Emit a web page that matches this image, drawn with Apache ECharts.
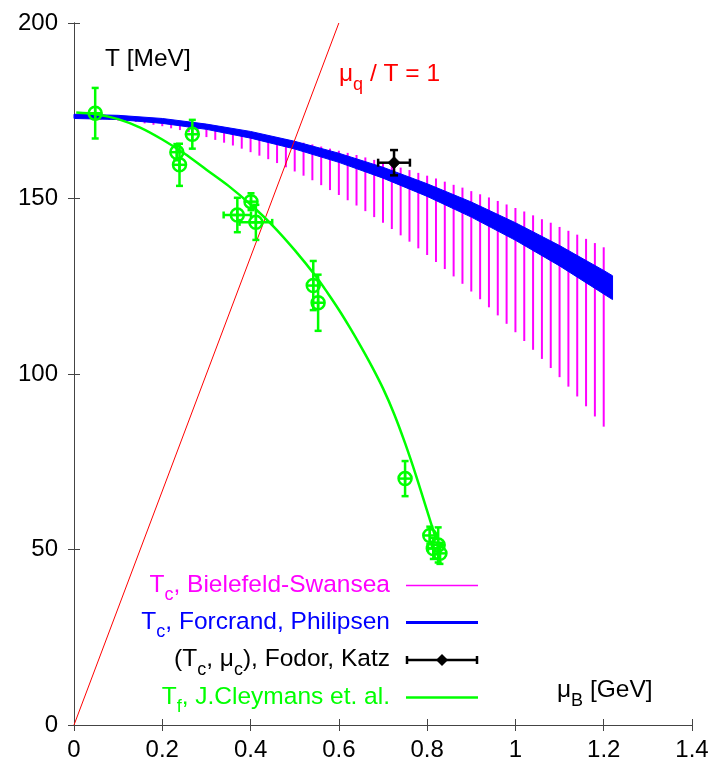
<!DOCTYPE html>
<html><head><meta charset="utf-8">
<script src="https://cdn.jsdelivr.net/npm/echarts@6/dist/echarts.min.js"></script>
<style>html,body{margin:0;padding:0;background:#fff}#c{width:712px;height:762px}</style>
</head><body><div id="c"></div>
<script>
// ---- axes ----
const xMin = 0, xMax = 1.4, xStep = 0.2;
const yMin = 0, yMax = 200, yStep = 50;

// ---- T_c, Bielefeld-Swansea (vertical bars: mu_B, top, bottom) ----
const bsMu = [0.02,0.04,0.06,0.08,0.10,0.12,0.14,0.16,0.18,0.20,
              0.22,0.24,0.26,0.28,0.30,0.32,0.34,0.36,0.38,0.40,
              0.42,0.44,0.46,0.48,0.50,0.52,0.54,0.56,0.58,0.60,
              0.62,0.64,0.66,0.68,0.70,0.72,0.74,0.76,0.78,0.80,
              0.82,0.84,0.86,0.88,0.90,0.92,0.94,0.96,0.98,1.00,
              1.02,1.04,1.06,1.08,1.10,1.12,1.14,1.16,1.18,1.20];
const bsTop = [172.8,172.8,172.7,172.6,172.5,172.4,172.3,172.1,172.0,171.8,
               171.6,171.3,171.1,170.8,170.5,170.2,169.9,169.5,169.1,168.7,
               168.3,167.9,167.4,166.9,166.4,165.9,165.4,164.8,164.2,163.6,
               163.0,162.4,161.7,161.0,160.3,159.6,158.8,158.1,157.3,156.5,
               155.7,154.8,153.9,153.1,152.1,151.2,150.3,149.3,148.3,147.3,
               146.3,145.2,144.1,143.1,141.9,140.8,139.7,138.5,137.3,136.1];
const bsBot = [172.7,172.6,172.5,172.4,172.2,172.0,171.8,171.4,171.0,170.6,
               170.0,169.5,168.9,168.2,167.5,166.7,165.9,165.1,164.2,163.2,
               162.2,161.2,160.1,158.9,157.7,156.5,155.2,153.8,152.4,151.0,
               149.5,148.0,146.4,144.7,143.1,141.3,139.5,137.7,135.8,133.9,
               131.9,129.9,127.8,125.7,123.5,121.3,119.0,116.7,114.3,111.9,
               109.4,106.9,104.3,101.7,99.1,96.4,93.6,90.8,87.9,85.0];

// ---- T_c, Forcrand, Philipsen (band) ----
const fpMu    = [0,0.1,0.2,0.3,0.4,0.5,0.6,0.7,0.8,0.9,1.0,1.1,1.2,1.22];
const fpUpper = [174.0,173.7,172.8,171.2,169.1,166.3,162.9,158.9,154.2,149.0,143.1,136.6,129.5,128.0];
const fpLower = [172.8,172.5,171.4,169.7,167.2,164.1,160.3,155.8,150.6,144.7,138.1,130.8,122.8,121.2];

// ---- (T_c, mu_c), Fodor, Katz ----
const fkMu = [0.725], fkT = [160.2], fkDT = [3.6], fkDMu = [0.036];

// ---- T_f, J.Cleymans et. al. : curve ----
const clMu = [0.005,0.05,0.1,0.15,0.2,0.25,0.3,0.35,0.4,0.45,0.5,0.55,0.575,0.6,0.625,0.65,0.675,0.7,0.725,0.75,0.775,0.8,0.82];
const clT  = [174.5,174.0,172.6,170.2,166.8,162.8,158.2,153.6,148.3,142.3,135.3,127.5,123.0,118.3,113.2,107.8,102.1,95.9,88.7,80.3,71.0,61.0,53.0];

// ---- T_f data points ----
const cpMu  = [0.048,0.233,0.239,0.268,0.370,0.401,0.412,0.542,0.553,0.750,0.806,0.814,0.825,0.829];
const cpT   = [174.3,163.2,159.6,168.3,145.3,149.1,143.2,125.2,120.3,70.2,54.0,50.3,51.3,48.9];
const cpDT  = [7.2,2.3,6.0,4.1,4.9,2.4,5.0,7.0,8.0,5.0,2.5,3.0,5.0,3.0];
const cpDMu = [0,0,0,0,0.031,0,0.037,0,0,0,0,0.012,0,0];

// ---- mu_q / T = 1 line ----
const rlMu = [0, 0.6];
const rlT  = [0, 200];

const FONT = "'Liberation Sans', Arial, sans-serif";
const C_MAG = '#ff00ff', C_BLUE = '#0000ff', C_GREEN = '#00ff00', C_RED = '#ff0000', C_BLACK = '#000000';

function seg(x1, y1, x2, y2, color, lw) {
  return {type: 'line', shape: {x1, y1, x2, y2}, style: {stroke: color, lineWidth: lw}};
}

function errRender(color, lw, cap, markerFn) {
  return function (params, api) {
    const x = api.value(0), y = api.value(1), dy = api.value(2), dx = api.value(3);
    const c = api.coord([x, y]);
    const ch = [];
    if (dy > 0) {
      const t = api.coord([x, y + dy]), b = api.coord([x, y - dy]);
      ch.push(seg(c[0], t[1], c[0], b[1], color, lw));
      ch.push(seg(c[0] - cap, t[1], c[0] + cap, t[1], color, lw));
      ch.push(seg(c[0] - cap, b[1], c[0] + cap, b[1], color, lw));
    }
    if (dx > 0) {
      const l = api.coord([x - dx, y]), r = api.coord([x + dx, y]);
      ch.push(seg(l[0], c[1], r[0], c[1], color, lw));
      ch.push(seg(l[0], c[1] - cap, l[0], c[1] + cap, color, lw));
      ch.push(seg(r[0], c[1] - cap, r[0], c[1] + cap, color, lw));
    }
    markerFn(ch, c[0], c[1]);
    return {type: 'group', children: ch};
  };
}

function circlePlus(ch, cx, cy) {
  const r = 6.5;
  ch.push({type: 'circle', shape: {cx, cy, r}, style: {stroke: C_GREEN, lineWidth: 2.5, fill: null}});
  ch.push(seg(cx - r, cy, cx + r, cy, C_GREEN, 2.5));
  ch.push(seg(cx, cy - r, cx, cy + r, C_GREEN, 2.5));
}
function diamond(ch, cx, cy) {
  const r = 6;
  ch.push({type: 'polygon', shape: {points: [[cx, cy - r], [cx + r, cy], [cx, cy + r], [cx - r, cy]]},
           style: {fill: C_BLACK, stroke: C_BLACK, lineWidth: 1}});
}

const chart = echarts.init(document.getElementById('c'), null, {renderer: 'canvas'});

const rich = (color) => ({
  m: {fontSize: 24.5, lineHeight: 28, fontFamily: FONT, fill: color, verticalAlign: 'top'},
  s: {fontSize: 18, lineHeight: 18, fontFamily: FONT, fill: color, verticalAlign: 'top', padding: [14, 0, 0, 0]}
});
function label(x, y, text, color, align) {
  return {type: 'text', x, y, z: 100,
    style: {text, align: align || 'right', verticalAlign: 'top', fill: color, rich: rich(color), font: '24.5px ' + FONT}};
}

const legX1 = 406, legX2 = 478, legTextX = 390;
const rows = [585.5, 622.5, 660, 697.5];
const TOFF = 11; // from row centre to text block top

const graphic = [
  label(105, 58 - TOFF, '{m|T [MeV]}', C_BLACK, 'left'),
  label(557, 689 - TOFF, '{m|μ}{s|B}{m| [GeV]}', C_BLACK, 'left'),
  label(339, 73 - TOFF, '{m|μ}{s|q}{m| / T = 1}', C_RED, 'left'),
  label(legTextX, rows[0] - 2 - TOFF, '{m|T}{s|c}{m|, Bielefeld-Swansea}', C_MAG),
  label(legTextX, rows[1] - 2 - TOFF, '{m|T}{s|c}{m|, Forcrand, Philipsen}', C_BLUE),
  label(legTextX, rows[2] - 2 - TOFF, '{m|(T}{s|c}{m|, μ}{s|c}{m|), Fodor, Katz}', C_BLACK),
  label(legTextX, rows[3] - 2 - TOFF, '{m|T}{s|f}{m|, J.Cleymans et. al.}', C_GREEN),
  Object.assign(seg(legX1, rows[0], legX2, rows[0], C_MAG, 1.5), {z: 100}),
  Object.assign(seg(legX1, rows[1], legX2, rows[1], C_BLUE, 3), {z: 100}),
  Object.assign(seg(legX1, rows[2], legX2, rows[2], C_BLACK, 2.5), {z: 100}),
  Object.assign(seg(legX1 + 1, rows[2] - 4, legX1 + 1, rows[2] + 4, C_BLACK, 2.5), {z: 100}),
  Object.assign(seg(legX2 - 1, rows[2] - 4, legX2 - 1, rows[2] + 4, C_BLACK, 2.5), {z: 100}),
  {type: 'polygon', z: 100, shape: {points: [[442, rows[2] - 6], [448, rows[2]], [442, rows[2] + 6], [436, rows[2]]]}, style: {fill: C_BLACK}},
  Object.assign(seg(legX1, rows[3], legX2, rows[3], C_GREEN, 2.5), {z: 100})
];

const axisCommon = {
  axisLine: {show: true, lineStyle: {color: '#444', width: 1}},
  axisTick: {show: true, inside: true, length: 6, lineStyle: {color: '#444', width: 1}},
  splitLine: {show: false}
};

const option = {
  animation: false,
  backgroundColor: '#fff',
  grid: {left: 74, right: 20, top: 23, bottom: 35, containLabel: false},
  xAxis: [
    Object.assign({type: 'value', min: xMin, max: xMax, interval: xStep, position: 'bottom',
      axisLabel: {fontSize: 24, color: '#000', fontFamily: FONT, margin: 13}}, axisCommon),
    Object.assign({type: 'value', min: xMin, max: xMax, interval: xStep, position: 'top',
      axisLabel: {show: false}}, axisCommon)
  ],
  yAxis: [
    Object.assign({type: 'value', min: yMin, max: yMax, interval: yStep, position: 'left',
      axisLabel: {fontSize: 24, color: '#000', fontFamily: FONT, margin: 16}}, axisCommon),
    Object.assign({type: 'value', min: yMin, max: yMax, interval: yStep, position: 'right',
      axisLabel: {show: false}}, axisCommon)
  ],
  graphic,
  series: [
    {
      name: 'Bielefeld-Swansea', type: 'custom', z: 2,
      data: bsMu.map((m, i) => [m, bsTop[i], bsBot[i]]),
      renderItem: (params, api) => {
        const t = api.coord([api.value(0), api.value(1)]);
        const b = api.coord([api.value(0), api.value(2)]);
        return seg(t[0], t[1], b[0], b[1], C_MAG, 2);
      }
    },
    {
      name: 'Forcrand, Philipsen', type: 'custom', z: 3,
      data: [[0]],
      renderItem: (params, api) => {
        const pts = [];
        for (let i = 0; i < fpMu.length; i++) pts.push(api.coord([fpMu[i], fpUpper[i]]));
        for (let i = fpMu.length - 1; i >= 0; i--) pts.push(api.coord([fpMu[i], fpLower[i]]));
        return {type: 'polygon', shape: {points: pts}, style: {fill: C_BLUE, stroke: C_BLUE, lineWidth: 1}};
      }
    },
    {
      name: 'mu_q/T=1', type: 'line', z: 4, symbol: 'none', clip: true,
      data: rlMu.map((m, i) => [m, rlT[i]]),
      lineStyle: {color: C_RED, width: 1}
    },
    {
      name: 'Cleymans curve', type: 'line', z: 5, symbol: 'none', smooth: 0.3,
      data: clMu.map((m, i) => [m, clT[i]]),
      lineStyle: {color: C_GREEN, width: 2.5}
    },
    {
      name: 'Cleymans points', type: 'custom', z: 6,
      data: cpMu.map((m, i) => [m, cpT[i], cpDT[i], cpDMu[i]]),
      renderItem: errRender(C_GREEN, 2.5, 3.5, circlePlus)
    },
    {
      name: 'Fodor, Katz', type: 'custom', z: 7,
      data: fkMu.map((m, i) => [m, fkT[i], fkDT[i], fkDMu[i]]),
      renderItem: errRender(C_BLACK, 2.5, 4, diamond)
    }
  ]
};
chart.setOption(option);
</script>
</body></html>
